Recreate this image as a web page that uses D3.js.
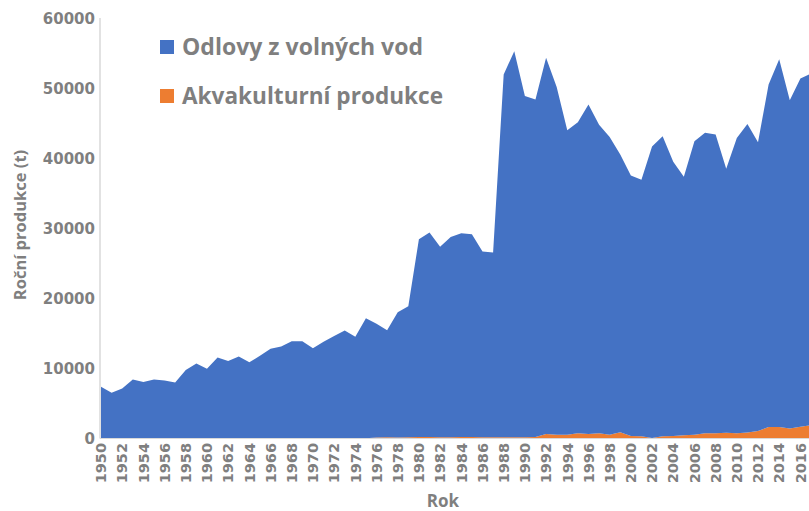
<!DOCTYPE html>
<html>
<head>
<meta charset="utf-8">
<script src="https://cdn.jsdelivr.net/npm/d3@7"></script>
<style>
  body { margin: 0; background: #fff; }
  text { font-family: "Open Sans", "Noto Sans", sans-serif; font-weight: bold; fill: #7f7f7f; }
  text.ytick, text.xtick { font-family: "DejaVu Sans", sans-serif; }
</style>
</head>
<body>
<script>
// roky 1950-2017
var years = d3.range(1950, 2018);
// odlovy z volnych vod (t)
var capture = [7350, 6500, 7100, 8400, 8050, 8400, 8250, 7980, 9750, 10700,
  9930, 11550, 11050, 11700, 10850, 11800, 12800, 13100, 13850, 13850,
  12850, 13800, 14600, 15400, 14500, 17150, 16230, 15300, 17900, 18700,
  28250, 29220, 27200, 28600, 29100, 28970, 26550, 26400, 51830, 55150,
  48750, 48200, 53750, 49680, 43500, 44430, 47080, 44080, 42550, 39700,
  37220, 36650, 41640, 42850, 39170, 36920, 41950, 42930, 42680, 37700,
  42180, 44080, 41250, 48930, 52530, 46900, 49750, 50250];
// akvakulturni produkce (t)
var aqua = [0, 0, 0, 0, 0, 0, 0, 0, 0, 0,
  0, 0, 0, 0, 0, 0, 0, 0, 0, 0,
  0, 0, 0, 0, 0, 0, 120, 150, 100, 150,
  200, 180, 150, 150, 200, 180, 150, 150, 150, 150,
  150, 200, 600, 520, 500, 720, 620, 720, 500, 850,
  330, 300, 60, 300, 330, 430, 500, 720, 720, 800,
  720, 820, 1050, 1620, 1620, 1400, 1650, 1850];
var yTicks = [0, 10000, 20000, 30000, 40000, 50000, 60000];
var seriesNames = ["Odlovy z volných vod", "Akvakulturní produkce"];
var colors = ["#4472c4", "#ed7d31"];

var W = 809, H = 511;
var svg = d3.select("body").append("svg")
    .attr("width", W)
    .attr("height", H);

var x = d3.scaleLinear().domain([1950, 2017]).range([101, 811]);
var y = d3.scaleLinear().domain([0, 60000]).range([438.3, 18.3]);

var rows = years.map(function(yr, i){ return {year: yr, aqua: aqua[i], capture: capture[i]}; });
var stack = d3.stack().keys(["aqua", "capture"]);
var layers = stack(rows);

var area = d3.area()
    .x(function(d){ return x(d.data.year); })
    .y0(function(d){ return y(d[0]); })
    .y1(function(d){ return y(d[1]); });

svg.selectAll("path.layer")
  .data(layers)
  .enter().append("path")
    .attr("class", "layer")
    .attr("d", area)
    .attr("fill", function(d, i){ return i == 0 ? colors[1] : colors[0]; });

// osy
svg.append("line")
    .attr("x1", 100).attr("x2", 100)
    .attr("y1", 18).attr("y2", 438.5)
    .attr("stroke", "#d9d9d9").attr("stroke-width", 1.5);
svg.append("line")
    .attr("x1", 100).attr("x2", W)
    .attr("y1", 438.5).attr("y2", 438.5)
    .attr("stroke", "#d9d9d9").attr("stroke-width", 1);

svg.selectAll("text.ytick")
  .data(yTicks)
  .enter().append("text")
    .attr("class", "ytick")
    .attr("x", 95)
    .attr("y", function(d){ return y(d); })
    .attr("dy", "0.36em")
    .attr("text-anchor", "end")
    .attr("font-size", 15)
    .text(function(d){ return d; });

var xTicks = years.filter(function(d){ return d % 2 == 0 && d <= 2016; });
svg.selectAll("text.xtick")
  .data(xTicks)
  .enter().append("text")
    .attr("class", "xtick")
    .attr("transform", function(d){ return "translate(" + x(d) + ",443) rotate(-90)"; })
    .attr("dy", "0.36em")
    .attr("text-anchor", "end")
    .attr("font-size", 14.5)
    .text(function(d){ return d; });

svg.append("text")
    .attr("x", 443).attr("y", 507)
    .attr("text-anchor", "middle")
    .attr("font-size", 17)
    .text("Rok");

svg.append("text")
    .attr("transform", "translate(26,225) rotate(-90)")
    .attr("text-anchor", "middle")
    .attr("font-size", 16.5)
    .text("Roční produkce (t)");

// legenda
var legend = svg.selectAll("g.legend")
  .data(seriesNames)
  .enter().append("g")
    .attr("class", "legend")
    .attr("transform", function(d, i){ return "translate(160," + (40 + i * 49) + ")"; });
legend.append("rect")
    .attr("width", 14).attr("height", 14)
    .attr("fill", function(d, i){ return colors[i]; });
legend.append("text")
    .attr("x", 22).attr("y", 7)
    .attr("dy", "0.36em")
    .attr("font-size", 23)
    .attr("textLength", function(d, i){ return i == 0 ? 241 : 261; })
    .attr("lengthAdjust", "spacingAndGlyphs")
    .text(function(d){ return d; });
</script>
</body>
</html>
